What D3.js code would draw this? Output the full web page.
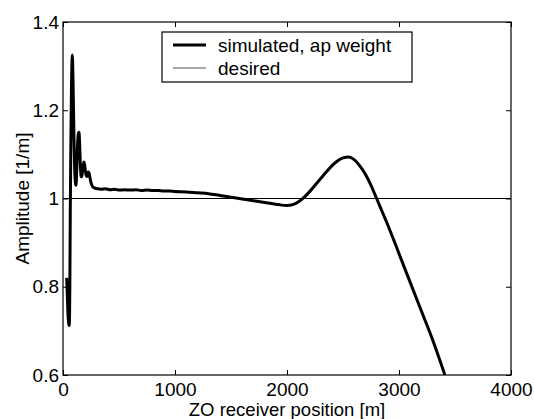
<!DOCTYPE html>
<html>
<head>
<meta charset="utf-8">
<script src="https://cdn.jsdelivr.net/npm/d3@7"></script>
<style>
  body { margin: 0; background: #fff; }
  svg { display: block; font-family: "Liberation Sans", Arial, sans-serif; }
</style>
</head>
<body>
<div id="chart-area"></div>
<script>
// receiver positions [m] and simulated amplitude
var positions = [33, 40, 46, 52, 56, 61, 65, 70, 76, 80, 83, 86, 90, 97, 104, 111, 116, 122, 130, 137, 143,
  149, 156, 162, 167, 173, 180, 187, 194, 201, 208, 214, 220, 226, 232, 240, 250, 262, 280, 310, 340, 380,
  420, 460, 500, 550, 600, 650, 700, 750, 800, 850, 900, 950, 1000, 1100, 1200, 1300, 1400, 1500, 1600,
  1700, 1800, 1900, 1950, 2000, 2050, 2100, 2150, 2200, 2250, 2300, 2350, 2400, 2450, 2500, 2550, 2600,
  2650, 2700, 2750, 2800, 2850, 2900, 2950, 3000, 3100, 3200, 3300, 3410];
var simulated = [0.82, 0.77, 0.73, 0.715, 0.712, 0.80, 0.97, 1.12, 1.26, 1.31, 1.325, 1.31, 1.26, 1.15, 1.07,
  1.035, 1.03, 1.06, 1.12, 1.148, 1.15, 1.12, 1.07, 1.05, 1.049, 1.06, 1.075, 1.083, 1.075, 1.06, 1.052,
  1.05, 1.055, 1.06, 1.058, 1.048, 1.036, 1.028, 1.024, 1.022, 1.021, 1.022, 1.020, 1.021, 1.019, 1.020,
  1.019, 1.020, 1.018, 1.019, 1.018, 1.018, 1.017, 1.017, 1.016, 1.015, 1.013, 1.011, 1.007, 1.003, 0.999,
  0.995, 0.991, 0.987, 0.985, 0.984, 0.986, 0.992, 1.002, 1.015, 1.03, 1.045, 1.06, 1.074, 1.085, 1.092,
  1.094, 1.088, 1.074, 1.055, 1.03, 1.0, 0.97, 0.94, 0.908, 0.875, 0.81, 0.745, 0.68, 0.6];
var desired = 1;

var xTicks = [0, 1000, 2000, 3000, 4000];
var yTicks = [0.6, 0.8, 1, 1.2, 1.4];
var legendLabels = ["simulated, ap weight", "desired"];

var margin = {left: 63, right: 23, top: 22, bottom: 44};
var width = 534 - margin.left - margin.right,
    height = 419 - margin.top - margin.bottom;

var svg = d3.select("#chart-area").append("svg")
  .attr("width", 534)
  .attr("height", 419);

var g = svg.append("g")
  .attr("transform", "translate(" + margin.left + "," + margin.top + ")");

var x = d3.scaleLinear().domain([0, 4000]).range([0, width]);
var y = d3.scaleLinear().domain([0.6, 1.4]).range([height, 0]);

// clip the curves to the axes box
g.append("clipPath").attr("id", "clip")
  .append("rect").attr("width", width).attr("height", height);

var data = positions.map(function (p, i) { return {x: p, y: simulated[i]}; });

var line = d3.line()
  .x(function (d) { return x(d.x); })
  .y(function (d) { return y(d.y); })
  .curve(d3.curveMonotoneX);

var plot = g.append("g").attr("clip-path", "url(#clip)");

plot.append("line")
  .attr("x1", x(0)).attr("x2", x(4000))
  .attr("y1", y(desired)).attr("y2", y(desired))
  .attr("stroke", "#000").attr("stroke-width", 1.1);

plot.append("path")
  .datum(data)
  .attr("fill", "none")
  .attr("stroke", "#000")
  .attr("stroke-width", 3)
  .attr("stroke-linejoin", "round")
  .attr("d", line);

// axes: ticks point inward, on all four sides
function styleAxis(sel) {
  sel.select(".domain").remove();
  sel.selectAll("line").attr("stroke", "#000");
  sel.selectAll("text").attr("font-size", "19px").attr("fill", "#000");
}

g.append("g")
  .attr("class", "x axis")
  .attr("transform", "translate(0," + height + ")")
  .call(d3.axisBottom(x).tickValues(xTicks).tickSizeInner(-5).tickSizeOuter(0).tickPadding(8)
    .tickFormat(d3.format("d")))
  .call(styleAxis);

g.append("g")
  .call(d3.axisTop(x).tickValues(xTicks).tickSizeInner(-5).tickSizeOuter(0).tickFormat(""))
  .call(styleAxis);

g.append("g")
  .attr("class", "y axis")
  .call(d3.axisLeft(y).tickValues(yTicks).tickSizeInner(-5).tickSizeOuter(0).tickPadding(4)
    .tickFormat(function (d) { return d === 1 ? "1" : d3.format(".1f")(d); }))
  .call(styleAxis);

g.append("g")
  .attr("transform", "translate(" + width + ",0)")
  .call(d3.axisRight(y).tickValues(yTicks).tickSizeInner(-5).tickSizeOuter(0).tickFormat(""))
  .call(styleAxis);

g.append("rect")
  .attr("width", width).attr("height", height)
  .attr("fill", "none").attr("stroke", "#000").attr("stroke-width", 1.2);

// axis labels
svg.append("text")
  .attr("x", margin.left + x(2000))
  .attr("y", 416)
  .attr("text-anchor", "middle")
  .attr("font-size", "18.5px")
  .text("ZO receiver position [m]");

svg.append("text")
  .attr("transform", "translate(29," + (margin.top + y(1)) + ") rotate(-90)")
  .attr("text-anchor", "middle")
  .attr("font-size", "19px")
  .text("Amplitude [1/m]");

// legend
var legend = svg.append("g").attr("transform", "translate(162,32)");
legend.append("rect")
  .attr("width", 250).attr("height", 50)
  .attr("fill", "#fff").attr("stroke", "#000").attr("stroke-width", 1.2);

legend.selectAll(".key")
  .data(legendLabels)
  .enter().append("line")
  .attr("x1", 11).attr("x2", 44)
  .attr("y1", function (d, i) { return 13 + i * 23; })
  .attr("y2", function (d, i) { return 13 + i * 23; })
  .attr("stroke", function (d, i) { return i === 0 ? "#000" : "#555"; })
  .attr("stroke-width", function (d, i) { return i === 0 ? 3 : 1; });

legend.selectAll(".lab")
  .data(legendLabels)
  .enter().append("text")
  .attr("x", 56)
  .attr("y", function (d, i) { return 20 + i * 23; })
  .attr("font-size", "19px")
  .text(function (d) { return d; });
</script>
</body>
</html>
